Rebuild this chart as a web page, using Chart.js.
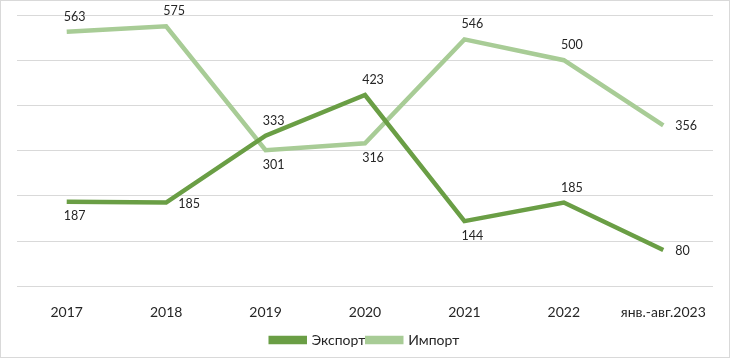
<!DOCTYPE html>
<html>
<head>
<meta charset="utf-8">
<script src="https://cdn.jsdelivr.net/npm/chart.js@4.4.0/dist/chart.umd.min.js"></script>
<style>
  html, body { margin: 0; padding: 0; background: #fff; }
  #wrap { position: relative; width: 728px; height: 356px; border: 1px solid #d9d9d9; }
</style>
</head>
<body>
<div id="wrap"><canvas id="linechart"></canvas></div>
<script>
const years = ['2017', '2018', '2019', '2020', '2021', '2022', 'янв.-авг.2023'];
const exportValues = [187, 185, 333, 423, 144, 185, 80];
const importValues = [563, 575, 301, 316, 546, 500, 356];
const yTicks = [0, 100, 200, 300, 400, 500, 600];

// where each value label sits relative to its point
const exportLabelPos = ['below', 'right', 'above', 'above', 'below', 'above', 'right'];
const importLabelPos = ['above', 'above', 'below', 'below', 'above', 'above', 'right'];

const valueLabels = {
    id: 'valueLabels',
    afterDatasetsDraw(chart) {
        const ctx = chart.ctx;
        ctx.save();
        ctx.font = '12.5px Lato';
        ctx.fillStyle = '#262626';
        ctx.textBaseline = 'middle';
        chart.data.datasets.forEach((ds, di) => {
            const meta = chart.getDatasetMeta(di);
            meta.data.forEach((pt, i) => {
                const where = ds.labelPos[i];
                let x = pt.x, y = pt.y;
                ctx.textAlign = 'center';
                if (where === 'above') { y -= 15; x += 8; }
                else if (where === 'below') { y += 14.5; x += 8; }
                else { ctx.textAlign = 'left'; x += 12; y += 1; }
                ctx.fillText(ds.data[i], x, y);
            });
        });
        ctx.restore();
    }
};

const ctx = document.getElementById('linechart').getContext('2d');
const linechart = new Chart(ctx, {
    type: 'line',
    data: {
        labels: years,
        datasets: [{
            label: 'Экспорт',
            data: exportValues,
            labelPos: exportLabelPos,
            borderColor: '#6a9e45',
            backgroundColor: '#6a9e45',
            borderWidth: 4.5,
            pointRadius: 0,
            tension: 0
        }, {
            label: 'Импорт',
            data: importValues,
            labelPos: importLabelPos,
            borderColor: '#a8cc96',
            backgroundColor: '#a8cc96',
            borderWidth: 4.5,
            pointRadius: 0,
            tension: 0
        }]
    },
    plugins: [valueLabels],
    options: {
        responsive: true,
        maintainAspectRatio: false,
        animation: false,
        layout: {
            padding: { top: 14, left: 16, right: 16, bottom: 0 }
        },
        plugins: {
            tooltip: { enabled: false },
            legend: {
                position: 'bottom',
                labels: {
                    color: '#262626',
                    font: { family: 'Lato', size: 14 },
                    boxWidth: 34,
                    boxHeight: 4,
                    padding: 2
                }
            }
        },
        scales: {
            x: {
                offset: true,
                grid: { display: false },
                border: { display: false },
                ticks: {
                    color: '#262626',
                    font: { family: 'Lato', size: 14 },
                    padding: 10,
                    maxRotation: 0
                }
            },
            y: {
                min: 0,
                max: 600,
                afterBuildTicks: axis => { axis.ticks = yTicks.map(v => ({ value: v })); },
                grid: { color: '#d9d9d9', lineWidth: 1, drawTicks: false },
                border: { display: false },
                ticks: { display: false }
            }
        }
    }
});
</script>
</body>
</html>
